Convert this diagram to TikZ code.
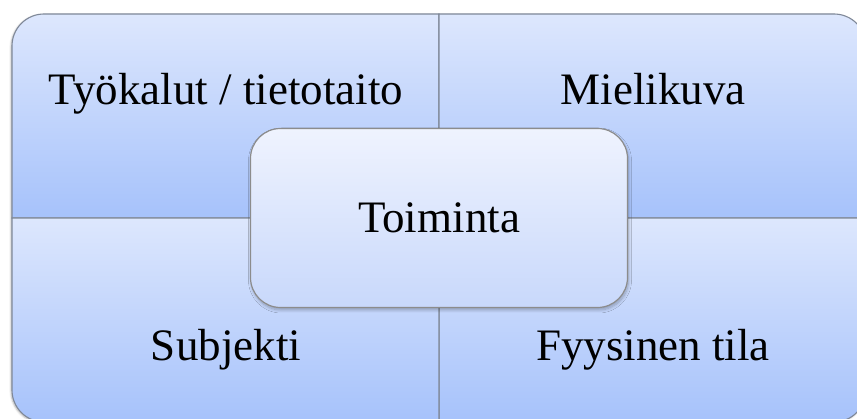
\documentclass[tikz,border=0pt]{standalone}
\usepackage{fontspec}
\setmainfont{Liberation Serif}
\usetikzlibrary{shadows,shadows.blur}
\definecolor{quadtop}{HTML}{DDE7FD}
\definecolor{quadbot}{HTML}{A6C2FB}
\definecolor{midtop}{HTML}{EFF3FE}
\definecolor{midbot}{HTML}{C8D8FB}
\definecolor{bord}{HTML}{7F8898}
\tikzset{
	quad/.style={top color=quadtop, bottom color=quadbot, draw=bord, line width=1.1pt},
	milieu/.style={rounded corners=30pt, minimum width=377pt, minimum height=179pt,
		top color=midtop, bottom color=midbot, draw=black!45, line width=1.2pt,
		blur shadow={shadow xshift=1pt, shadow yshift=-2.5pt, shadow opacity=28, shadow blur steps=8, shadow blur radius=3pt}},
	lbl/.style={anchor=base, inner sep=0pt, font=\fontsize{45}{54}\selectfont}
}

\begin{document}
\begin{tikzpicture}[x=1pt,y=1pt]
	\def\xg{12};
	\def\xm{439};
	\def\xd{866};
	\def\yb{-4};
	\def\ym{200};
	\def\yh{404};
	\def\rayon{32};
	\useasboundingbox (0,0) rectangle (857,418);
	\clip (0,0) rectangle (857,418); % le cadre deborde a droite et en bas
	
	%Ombre du cadre
	\path[fill=white, blur shadow={shadow xshift=-1pt, shadow yshift=-1pt, shadow opacity=30, shadow blur steps=4},
		rounded corners=\rayon pt] (\xg,\yb) rectangle (\xd,\yh);
	
	%Quadrants (un seul coin arrondi chacun)
	\shadedraw[quad] (\xm,\ym) -- (\xg,\ym) -- (\xg,\yh-\rayon)
		arc[start angle=180, end angle=90, radius=\rayon pt] -- (\xm,\yh) -- cycle;
	\shadedraw[quad] (\xm,\ym) -- (\xm,\yh) -- (\xd-\rayon,\yh)
		arc[start angle=90, end angle=0, radius=\rayon pt] -- (\xd,\ym) -- cycle;
	\shadedraw[quad] (\xm,\ym) -- (\xd,\ym) -- (\xd,\yb+\rayon)
		arc[start angle=0, end angle=-90, radius=\rayon pt] -- (\xm,\yb) -- cycle;
	\shadedraw[quad] (\xm,\ym) -- (\xm,\yb) -- (\xg+\rayon,\yb)
		arc[start angle=270, end angle=180, radius=\rayon pt] -- (\xg,\ym) -- cycle;
	
	%Textes des quadrants
	\node[lbl] (tyokalut) at (226,313) {Työkalut / tietotaito};
	\node[lbl] (mielikuva) at (653,313) {Mielikuva};
	\node[lbl] (subjekti) at (226,58) {Subjekti};
	\node[lbl] (tila) at (653,58) {Fyysinen tila};
	
	%Boite centrale
	\node[milieu, font=\fontsize{45}{54}\selectfont] (toiminta) at (\xm,\ym) {Toiminta};
	
\end{tikzpicture}
\end{document}
